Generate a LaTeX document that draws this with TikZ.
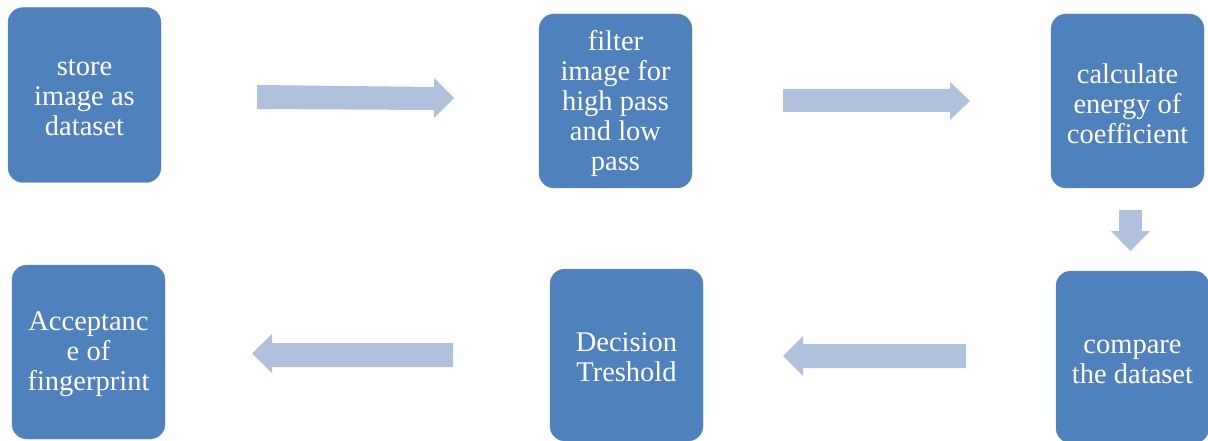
\documentclass[tikz,border=0pt]{standalone}
\usepackage{fontspec}
\setmainfont{Liberation Serif}
\definecolor{boxblue}{RGB}{79,129,189}
\definecolor{arrowblue}{RGB}{176,193,221}
\begin{document}
\begin{tikzpicture}[x=1pt,y=-1pt,
  stepbox/.style={fill=boxblue, draw=boxblue!90!white, rounded corners=15pt,
    minimum width=153pt, inner sep=0pt},
  steptext/.style={text=white, align=center, inner sep=0pt,
    font=\fontsize{28.5}{30}\selectfont},
  blockarrow/.style={fill=arrowblue}]
\useasboundingbox (0,0) rectangle (1208,441);
% boxes
\node[stepbox, minimum height=175pt] (store) at (84.5,95) {};
\node[stepbox, minimum height=174pt] (filter) at (615.5,101) {};
\node[stepbox, minimum height=174pt] (energy) at (1127.5,101) {};
\node[stepbox, minimum height=172pt] (compare) at (1132.5,357) {};
\node[stepbox, minimum height=172pt] (decision) at (626.5,355) {};
\node[stepbox, minimum height=174pt] (accept) at (88.5,352) {};
% texts
\node[steptext] (storet) at ([yshift=-2.5pt]store.center) {store\\image as\\dataset};
\node[steptext] (filtert) at ([yshift=-3pt]filter.center) {filter\\image for\\high pass\\and low\\pass};
\node[steptext] (energyt) at ([yshift=-2.5pt]energy.center) {calculate\\energy of\\coefficient};
\node[steptext] (comparet) at ([yshift=-5pt]compare.center) {compare\\the dataset};
\node[steptext] (decisiont) at ([yshift=-2pt]decision.center) {Decision\\Treshold};
\node[steptext] (acceptt) at ([yshift=-2pt]accept.center) {Acceptanc\\e of\\fingerprint};
% block arrows
\fill[blockarrow] (257,85) -- (434,87) -- (434,78) -- (454,98) -- (434,118) -- (434,110) -- (257,109) -- cycle;
\fill[blockarrow] (783,89) -- (950,89) -- (950,82) -- (970,101) -- (950,120) -- (950,112) -- (783,112) -- cycle;
\fill[blockarrow] (1119,210) -- (1142,210) -- (1142,231) -- (1150,231) -- (1130.5,251) -- (1111,231) -- (1119,231) -- cycle;
\fill[blockarrow] (966,344) -- (803,344) -- (803,336) -- (783,356) -- (803,376) -- (803,368) -- (966,368) -- cycle;
\fill[blockarrow] (453,343) -- (272,343) -- (272,334) -- (252,353.5) -- (272,373) -- (272,367) -- (453,367) -- cycle;
\end{tikzpicture}
\end{document}
